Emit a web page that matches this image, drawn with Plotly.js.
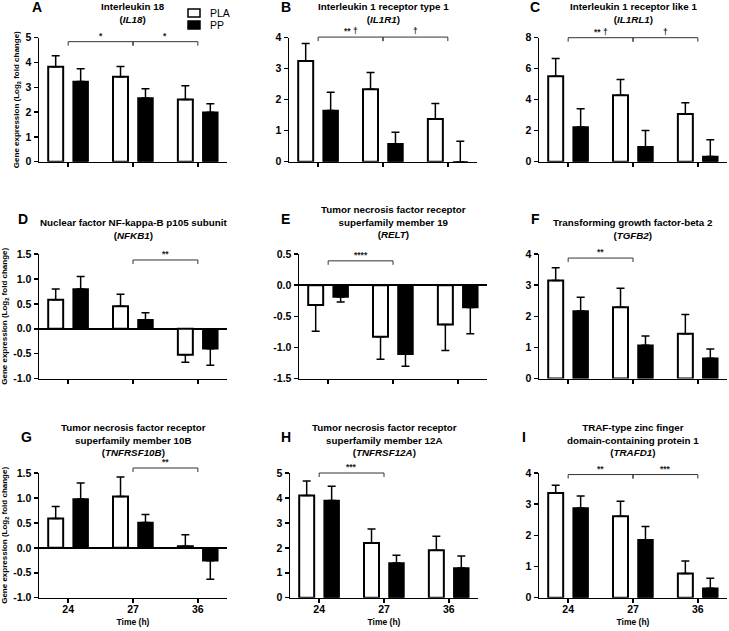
<!DOCTYPE html>
<html>
<head>
<meta charset="utf-8">
<script src="https://cdn.plot.ly/plotly-3.0.1.min.js"></script>
<style>html,body{margin:0;padding:0;background:#fff;}#chart{width:729px;height:631px;}</style>
</head>
<body>
<div id="chart"></div>
<script>
// ---------- DATA ----------
const timePoints = ['24', '27', '36'];
const seriesNames = ['PLA', 'PP'];

// A  Interleukin 18 (IL18)
const A_PLA = [3.83, 3.43, 2.51];  const A_PLA_err = [0.44, 0.41, 0.55];
const A_PP  = [3.23, 2.57, 1.99];  const A_PP_err  = [0.52, 0.37, 0.35];
// B  Interleukin 1 receptor type 1 (IL1R1)
const B_PLA = [3.25, 2.34, 1.38];  const B_PLA_err = [0.56, 0.54, 0.50];
const B_PP  = [1.65, 0.58, 0.00];  const B_PP_err  = [0.59, 0.37, 0.66];
// C  Interleukin 1 receptor like 1 (IL1RL1)
const C_PLA = [5.51, 4.28, 3.08];  const C_PLA_err = [1.14, 1.03, 0.73];
const C_PP  = [2.24, 0.97, 0.34];  const C_PP_err  = [1.18, 1.05, 1.08];
// D  NF-kappa-B p105 subunit (NFKB1)
const D_PLA = [0.58, 0.45, -0.52]; const D_PLA_err = [0.22, 0.24, 0.15];
const D_PP  = [0.80, 0.18, -0.40]; const D_PP_err  = [0.25, 0.14, 0.33];
// E  TNF receptor superfamily member 19 (RELT)
const E_PLA = [-0.32, -0.83, -0.63]; const E_PLA_err = [0.42, 0.36, 0.42];
const E_PP  = [-0.19, -1.11, -0.36]; const E_PP_err  = [0.08, 0.19, 0.42];
// F  Transforming growth factor-beta 2 (TGFB2)
const F_PLA = [3.15, 2.29, 1.44];  const F_PLA_err = [0.41, 0.61, 0.62];
const F_PP  = [2.17, 1.07, 0.65];  const F_PP_err  = [0.44, 0.30, 0.30];
// G  TNF receptor superfamily member 10B (TNFRSF10B)
const G_PLA = [0.59, 1.03, 0.03];  const G_PLA_err = [0.24, 0.39, 0.23];
const G_PP  = [0.98, 0.51, -0.26]; const G_PP_err  = [0.32, 0.16, 0.37];
// H  TNF receptor superfamily member 12A (TNFRSF12A)
const H_PLA = [4.10, 2.19, 1.90];  const H_PLA_err = [0.58, 0.56, 0.56];
const H_PP  = [3.90, 1.39, 1.19];  const H_PP_err  = [0.57, 0.31, 0.48];
// I  TRAF-type zinc finger domain-containing protein 1 (TRAFD1)
const I_PLA = [3.36, 2.61, 0.78];  const I_PLA_err = [0.25, 0.48, 0.40];
const I_PP  = [2.88, 1.86, 0.30];  const I_PP_err  = [0.38, 0.42, 0.32];

// significance brackets: [from, to, label]
const DAG = '\u2020';
const A_sig = [['24', '27', '*'], ['27', '36', '*']];          const A_sigY = 4.84;
const B_sig = [['24', '27', '** ' + DAG], ['27', '36', DAG]];  const B_sigY = 4.02;
const C_sig = [['24', '27', '** ' + DAG], ['27', '36', DAG]];  const C_sigY = 8.0;
const D_sig = [['27', '36', '**']];                             const D_sigY = 1.38;
const E_sig = [['24', '27', '****']];                           const E_sigY = 0.39;
const F_sig = [['24', '27', '**']];                             const F_sigY = 3.87;
const G_sig = [['27', '36', '**']];                             const G_sigY = 1.60;
const H_sig = [['24', '27', '***']];                            const H_sigY = 5.0;
const I_sig = [['24', '27', '**'], ['27', '36', '***']];        const I_sigY = 3.95;

// ---------- LAYOUT CONFIG ----------
const W = 729, H = 631;
const FONT = 'Liberation Sans, Arial, sans-serif';
const plotW = 188;
const rows = [[37.7, 161.7], [254, 378.6], [473, 597.7]];
const panels = [
  {id:'A', row:0, left:39,  pla:A_PLA, plaE:A_PLA_err, pp:A_PP, ppE:A_PP_err, sig:A_sig, sigY:A_sigY, range:[0,5], dtick:1,
   title:'Interleukin 18<br>(<i>IL18</i>)', titleY:13, letter:[30,7]},
  {id:'B', row:0, left:289, pla:B_PLA, plaE:B_PLA_err, pp:B_PP, ppE:B_PP_err, sig:B_sig, sigY:B_sigY, range:[0,4], dtick:1,
   title:'Interleukin 1 receptor type 1<br>(<i>IL1R1</i>)', titleY:13, letter:[279,7]},
  {id:'C', row:0, left:539, pla:C_PLA, plaE:C_PLA_err, pp:C_PP, ppE:C_PP_err, sig:C_sig, sigY:C_sigY, range:[0,8], dtick:2,
   title:'Interleukin 1 receptor like 1<br>(<i>IL1RL1</i>)', titleY:13, letter:[528,7]},
  {id:'D', row:1, left:39,  pla:D_PLA, plaE:D_PLA_err, pp:D_PP, ppE:D_PP_err, sig:D_sig, sigY:D_sigY, range:[-1,1.5], dtick:0.5,
   title:'Nuclear factor NF-kappa-B p105 subunit<br>(<i>NFKB1</i>)', titleY:229, letter:[16,219]},
  {id:'E', row:1, left:299, pla:E_PLA, plaE:E_PLA_err, pp:E_PP, ppE:E_PP_err, sig:E_sig, sigY:E_sigY, range:[-1.5,0.5], dtick:0.5,
   title:'Tumor necrosis factor receptor<br>superfamily member 19<br>(<i>RELT</i>)', titleY:222, letter:[279,219]},
  {id:'F', row:1, left:539, pla:F_PLA, plaE:F_PLA_err, pp:F_PP, ppE:F_PP_err, sig:F_sig, sigY:F_sigY, range:[0,4], dtick:1,
   title:'Transforming growth factor-beta 2<br>(<i>TGFB2</i>)', titleY:229, letter:[529,219]},
  {id:'G', row:2, left:39,  pla:G_PLA, plaE:G_PLA_err, pp:G_PP, ppE:G_PP_err, sig:G_sig, sigY:G_sigY, range:[-1,1.5], dtick:0.5,
   title:'Tumor necrosis factor receptor<br>superfamily member 10B<br>(<i>TNFRSF10B</i>)', titleY:440, letter:[19,437]},
  {id:'H', row:2, left:290, pla:H_PLA, plaE:H_PLA_err, pp:H_PP, ppE:H_PP_err, sig:H_sig, sigY:H_sigY, range:[0,5], dtick:1,
   title:'Tumor necrosis factor receptor<br>superfamily member 12A<br>(<i>TNFRSF12A</i>)', titleY:440, letter:[279,437]},
  {id:'I', row:2, left:539, pla:I_PLA, plaE:I_PLA_err, pp:I_PP, ppE:I_PP_err, sig:I_sig, sigY:I_sigY, range:[0,4], dtick:1,
   title:'TRAF-type zinc finger<br>domain-containing protein 1<br>(<i>TRAFD1</i>)', titleY:440, letter:[520,437]}
];

function fmtTick(v){ return (v < 0 ? '-' : '') + Math.abs(v).toFixed(1); }

const data = [];
const layout = {
  width: W, height: H,
  margin: {l:0, r:0, t:0, b:0},
  paper_bgcolor: '#fff', plot_bgcolor: '#fff',
  showlegend: false,
  barmode: 'group', bargap: 0.23, bargroupgap: 0.4,
  font: {family: FONT, color: '#000'},
  annotations: [], shapes: []
};

function errUp(vals, errs){ return errs.map((e,i)=> vals[i] >= 0 ? e : 0); }
function errDn(vals, errs){ return errs.map((e,i)=> vals[i] < 0 ? e : 0); }

panels.forEach((p, k) => {
  const n = k + 1;
  const sfx = (n === 1 ? '' : String(n));
  const xa = 'x' + sfx, ya = 'y' + sfx;
  const [top, bot] = rows[p.row];
  const plotH = bot - top;

  const bar = (name, vals, errs, fill, lw) => ({
    type: 'bar', name: name, x: timePoints, y: vals, xaxis: xa, yaxis: ya,
    marker: {color: fill, line: {color: '#000', width: lw}},
    error_y: {type: 'data', symmetric: false, array: errUp(vals, errs), arrayminus: errDn(vals, errs),
              color: '#000', thickness: 1.5, width: 4},
    hoverinfo: 'skip'
  });
  data.push(bar(seriesNames[0], p.pla, p.plaE, '#fff', 2));
  data.push(bar(seriesNames[1], p.pp, p.ppE, '#000', 1.5));

  // significance brackets: x = category serial number, y = fraction of the y-axis domain
  const yDom = (p.sigY - p.range[0]) / (p.range[1] - p.range[0]);
  const drop = 4 / plotH;
  const bl = {color: '#333', width: 1};
  const yr = ya + ' domain';
  p.sig.forEach(s => {
    const i0 = timePoints.indexOf(s[0]), i1 = timePoints.indexOf(s[1]);
    layout.shapes.push({type: 'line', xref: xa, yref: yr, x0: i0, x1: i1, y0: yDom, y1: yDom, line: bl, layer: 'above'});
    layout.shapes.push({type: 'line', xref: xa, yref: yr, x0: i0, x1: i0, y0: yDom, y1: yDom - drop, line: bl, layer: 'above'});
    layout.shapes.push({type: 'line', xref: xa, yref: yr, x0: i1, x1: i1, y0: yDom, y1: yDom - drop, line: bl, layer: 'above'});
    layout.annotations.push({xref: xa, yref: yr, x: (i0 + i1) / 2, y: yDom, text: '<b>' + s[2] + '</b>', showarrow: false,
      xanchor: 'center', yanchor: 'bottom', yshift: -1,
      font: {size: 8.5, color: '#222', family: FONT}});
  });

  const bottomRow = p.row === 2;
  const xax = {
    domain: [p.left / W, (p.left + plotW) / W], anchor: ya, type: 'category',
    range: [-0.45, 2.45], showline: true, linecolor: '#000', linewidth: 1.5,
    ticks: 'outside', ticklen: 4, tickwidth: 1.5, tickcolor: '#000',
    showgrid: false, zeroline: false, fixedrange: true,
    showticklabels: bottomRow, ticklabelstandoff: -3,
    tickfont: {size: 10.5, weight: 'bold', family: FONT}
  };
  if (bottomRow) xax.title = {text: 'Time (h)', font: {size: 8.5, weight: 'bold', family: FONT}, standoff: 5};
  layout['xaxis' + sfx] = xax;

  const hasNeg = p.range[0] < 0;
  const yax = {
    domain: [1 - bot / H, 1 - top / H], anchor: xa, range: p.range,
    showline: true, linecolor: '#000', linewidth: 1.5,
    ticks: 'outside', ticklen: 4, tickwidth: 1.5, tickcolor: '#000',
    showgrid: false, zeroline: hasNeg, zerolinecolor: '#000', zerolinewidth: 1.5, fixedrange: true,
    tickfont: {size: 10.5, weight: 'bold', family: FONT}
  };
  if (p.dtick === 0.5) {
    const tv = [];
    for (let v = p.range[0]; v <= p.range[1] + 1e-9; v += 0.5) tv.push(+v.toFixed(2));
    yax.tickmode = 'array'; yax.tickvals = tv; yax.ticktext = tv.map(fmtTick);
  } else {
    yax.tickmode = 'linear'; yax.tick0 = 0; yax.dtick = p.dtick;
  }
  if (p.left < 100) {
    yax.title = {text: 'Gene expression (Log<sub>2</sub> fold change)', font: {size: 8, weight: 'bold', family: FONT}, standoff: 4};
  }
  layout['yaxis' + sfx] = yax;

  // panel title
  layout.annotations.push({xref: 'paper', yref: 'paper', x: (p.left + plotW / 2) / W, y: 1 - p.titleY / H,
    text: '<b>' + p.title + '</b>', showarrow: false, xanchor: 'center', yanchor: 'middle',
    font: {size: 9.8, family: FONT, color: '#000'}});
  // panel letter
  layout.annotations.push({xref: 'paper', yref: 'paper', x: p.letter[0] / W, y: 1 - p.letter[1] / H,
    text: '<b>' + p.id + '</b>', showarrow: false, xanchor: 'left', yanchor: 'middle',
    font: {size: 14, family: FONT, color: '#000'}});
});

// legend (in panel A)
const legendItems = [{name: seriesNames[0], fill: '#fff', y: 13}, {name: seriesNames[1], fill: '#000', y: 25}];
legendItems.forEach(li => {
  layout.shapes.push({type: 'rect', xref: 'paper', yref: 'paper',
    x0: 188 / W, x1: 200 / W, y0: 1 - (li.y - 4) / H, y1: 1 - (li.y + 4) / H,
    fillcolor: li.fill, line: {color: '#000', width: 1.5}});
  layout.annotations.push({xref: 'paper', yref: 'paper', x: 208 / W, y: 1 - li.y / H, text: li.name,
    showarrow: false, xanchor: 'left', yanchor: 'middle', font: {size: 10.5, family: FONT, color: '#000'}});
});

Plotly.newPlot('chart', data, layout, {staticPlot: true, displayModeBar: false});
</script>
</body>
</html>
